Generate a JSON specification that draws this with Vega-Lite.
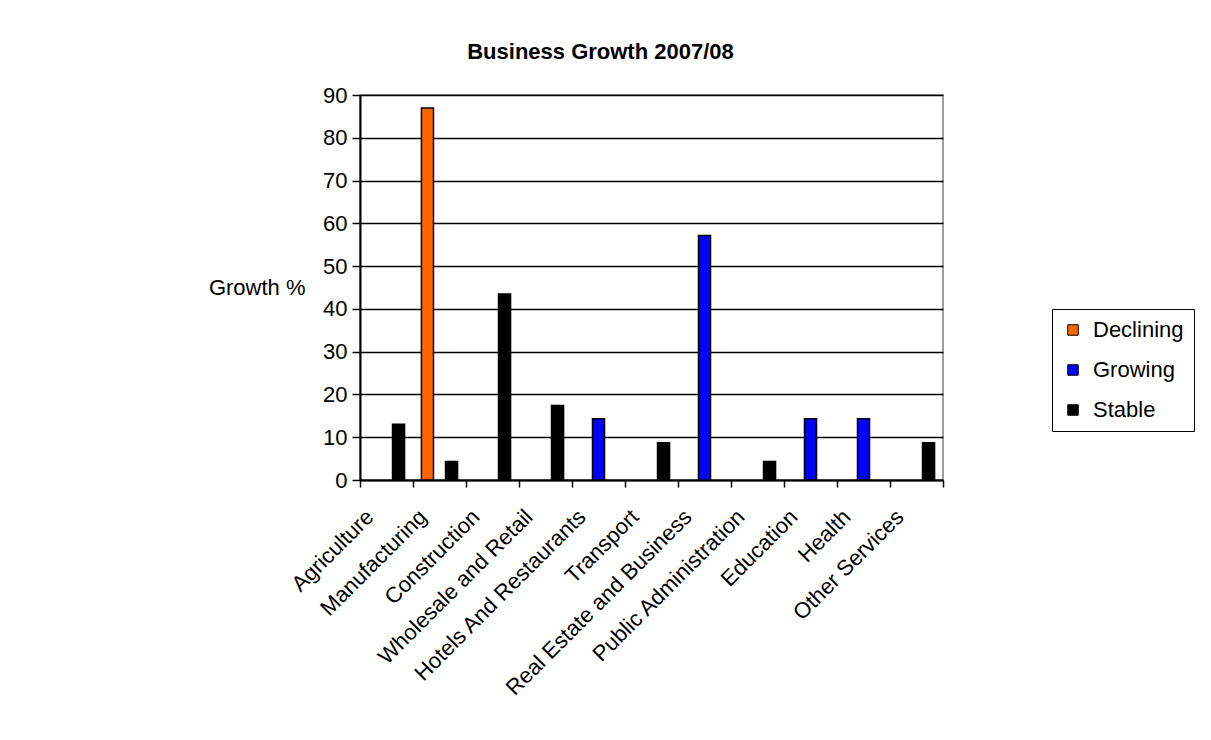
{
  "$schema": "https://vega.github.io/schema/vega-lite/v6.json",
  "width": 583,
  "height": 385,
  "autosize": {"type": "none"},
  "padding": {"left": 360, "top": 95, "right": 268, "bottom": 260},
  "background": "white",
  "title": {
    "text": "Business Growth 2007/08",
    "fontSize": 22,
    "fontWeight": "bold",
    "font": "Liberation Sans",
    "color": "black",
    "anchor": "middle",
    "frame": "group",
    "dx": -51,
    "offset": 20
  },
  "data": {
    "values": [
      {"sector": "Agriculture", "trend": "Stable", "growth": 13.04},
      {"sector": "Manufacturing", "trend": "Declining", "growth": 86.96},
      {"sector": "Manufacturing", "trend": "Stable", "growth": 4.35},
      {"sector": "Construction", "trend": "Stable", "growth": 43.48},
      {"sector": "Wholesale and Retail", "trend": "Stable", "growth": 17.39},
      {"sector": "Hotels And Restaurants", "trend": "Growing", "growth": 14.29},
      {"sector": "Transport", "trend": "Stable", "growth": 8.7},
      {"sector": "Real Estate and Business", "trend": "Growing", "growth": 57.14},
      {"sector": "Public Administration", "trend": "Stable", "growth": 4.35},
      {"sector": "Education", "trend": "Growing", "growth": 14.29},
      {"sector": "Health", "trend": "Growing", "growth": 14.29},
      {"sector": "Other Services", "trend": "Stable", "growth": 8.7}
    ]
  },
  "mark": {"type": "bar", "stroke": "black", "strokeWidth": 1.5},
  "encoding": {
    "x": {
      "field": "sector",
      "type": "nominal",
      "sort": null,
      "scale": {
        "domain": ["Agriculture", "Manufacturing", "Construction", "Wholesale and Retail", "Hotels And Restaurants", "Transport", "Real Estate and Business", "Public Administration", "Education", "Health", "Other Services"],
        "paddingInner": 0,
        "paddingOuter": 0
      },
      "axis": {
        "title": null,
        "labelAngle": -45,
        "labelAlign": "right",
        "labelBaseline": "middle",
        "labelOffset": -17,
        "labelPadding": 26,
        "labelOverlap": false,
        "labelLimit": 0,
        "labelFontSize": 22,
        "labelColor": "black",
        "tickBand": "extent",
        "tickSize": 7,
        "tickColor": "black",
        "tickWidth": 1.5,
        "domainColor": "black",
        "domainWidth": 2,
        "grid": false
      }
    },
    "xOffset": {
      "field": "trend",
      "type": "nominal",
      "scale": {"domain": ["Declining", "Growing", "Stable"], "paddingInner": 0, "paddingOuter": 0.7}
    },
    "y": {
      "field": "growth",
      "type": "quantitative",
      "scale": {"domain": [0, 90], "nice": false},
      "axis": {
        "title": "Growth %",
        "titleAngle": 0,
        "titleAlign": "right",
        "titleBaseline": "middle",
        "titleX": -55,
        "titleY": 192,
        "titleFontSize": 22,
        "titleFontWeight": "normal",
        "titleColor": "black",
        "values": [0, 10, 20, 30, 40, 50, 60, 70, 80, 90],
        "grid": true,
        "gridColor": "black",
        "gridWidth": 1.5,
        "domainColor": "black",
        "domainWidth": 2,
        "tickColor": "black",
        "tickWidth": 1.5,
        "tickSize": 8,
        "labelPadding": 5,
        "labelFontSize": 22,
        "labelColor": "black"
      }
    },
    "color": {
      "field": "trend",
      "type": "nominal",
      "scale": {"domain": ["Declining", "Growing", "Stable"], "range": ["#FF6600", "#0000FF", "#000000"]},
      "legend": {
        "title": null,
        "orient": "none",
        "legendX": 692,
        "legendY": 214,
        "strokeColor": "black",
        "fillColor": "white",
        "padding": 10,
        "symbolType": "square",
        "symbolSize": 110,
        "symbolStrokeColor": "black",
        "symbolStrokeWidth": 1,
        "symbolOpacity": 1,
        "labelFontSize": 22,
        "labelColor": "black",
        "rowPadding": 18,
        "labelOffset": 9
      }
    }
  },
  "config": {
    "font": "Liberation Sans",
    "view": {"stroke": "#808080", "strokeWidth": 1.5}
  }
}
